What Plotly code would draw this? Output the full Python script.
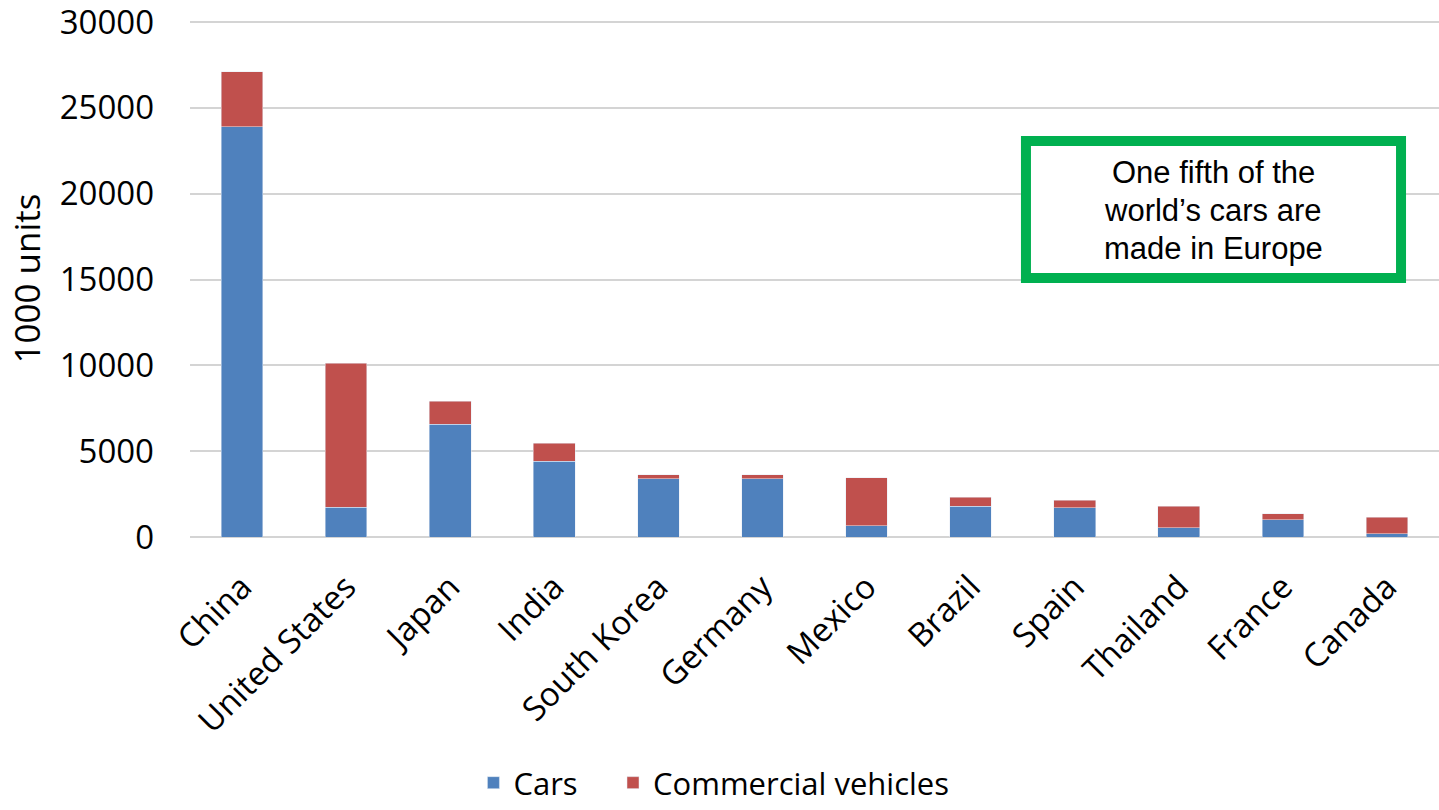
import plotly.graph_objects as go

# Vehicle production by country, thousands of units
countries = ["China", "United States", "Japan", "India", "South Korea", "Germany",
             "Mexico", "Brazil", "Spain", "Thailand", "France", "Canada"]
cars = [23900, 1730, 6560, 4400, 3380, 3380, 650, 1800, 1710, 550, 1010, 200]
commercial = [3200, 8400, 1340, 1050, 250, 250, 2810, 530, 430, 1240, 350, 960]

y_ticks = [0, 5000, 10000, 15000, 20000, 25000, 30000]
note_lines = ["One fifth of the", "world’s cars are", "made in Europe"]

BLUE = "#4F81BD"
RED = "#C0504D"
GREEN = "#00B050"
GRID = "#D4D4D4"
TICK_FONT = dict(family="Open Sans", size=33, color="#000000")
LEGEND_FONT = dict(family="Open Sans", size=31, color="#000000")

fig = go.Figure()
fig.add_trace(go.Bar(x=countries, y=cars, name="Cars", marker_color=BLUE,
                     legend="legend"))
fig.add_trace(go.Bar(x=countries, y=commercial, name="Commercial vehicles",
                     marker_color=RED, legend="legend2"))

legend_common = dict(
    orientation="h",
    xref="container", yref="container",
    xanchor="left",
    y=0.0, yanchor="bottom",
    font=LEGEND_FONT,
    bgcolor="rgba(0,0,0,0)",
)

fig.update_layout(
    barmode="stack",
    bargap=0.6,
    width=1439,
    height=810,
    margin=dict(l=190, r=0, t=20, b=273, autoexpand=False),
    paper_bgcolor="white",
    plot_bgcolor="white",
    showlegend=True,
    legend=dict(x=0.329, **legend_common),
    legend2=dict(x=0.426, **legend_common),
)

fig.update_yaxes(
    range=[0, 30120],
    tickvals=y_ticks,
    ticktext=[str(v) for v in y_ticks],
    tickfont=TICK_FONT,
    ticklabeloverflow="allow",
    showgrid=True,
    gridcolor=GRID,
    gridwidth=1.5,
    zeroline=True,
    zerolinecolor=GRID,
    zerolinewidth=1.5,
    showline=False,
    ticklabelstandoff=35,
    automargin=False,
    title=dict(text="1000 units", font=dict(family="Open Sans", size=35, color="#000000"),
               standoff=8),
)

fig.update_xaxes(
    tickangle=-45,
    tickfont=TICK_FONT,
    showgrid=False,
    showline=False,
    ticklabelstandoff=23,
    automargin=False,
)

# Callout box with a thick green border
box_x0, box_x1 = 0.6693, 0.9696
box_y0, box_y1 = 0.501, 0.766
fig.add_shape(
    type="rect", xref="paper", yref="paper",
    x0=box_x0, x1=box_x1, y0=box_y0, y1=box_y1,
    line=dict(color=GREEN, width=10),
    fillcolor="white",
    layer="above",
)
center_x = (box_x0 + box_x1) / 2
center_y = (box_y0 + box_y1) / 2
line_step = 38
for i, line in enumerate(note_lines):
    fig.add_annotation(
        x=center_x, y=center_y, xref="paper", yref="paper",
        text=line, showarrow=False,
        xanchor="center", yanchor="middle",
        yshift=(1 - i) * line_step - 1,
        font=dict(family="Liberation Sans", size=31, color="#000000"),
    )

fig.write_html("out.html")
